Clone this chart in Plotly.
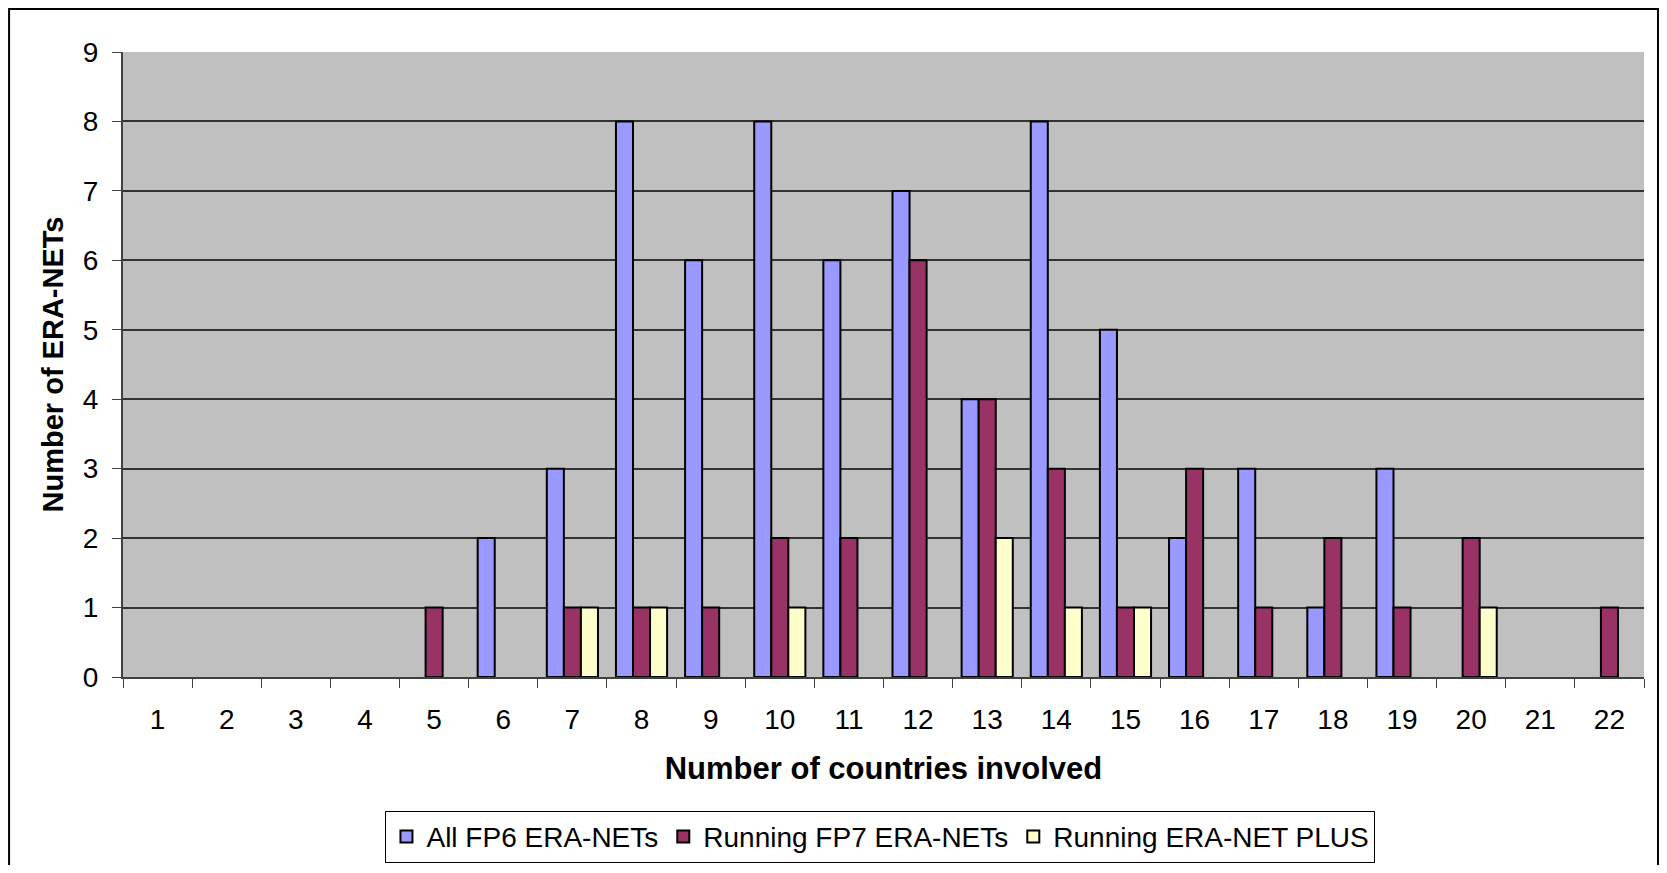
import plotly.graph_objects as go

categories = [str(i) for i in range(1, 23)]
fp6 = [0, 0, 0, 0, 0, 2, 3, 8, 6, 8, 6, 7, 4, 8, 5, 2, 3, 1, 3, 0, 0, 0]
fp7 = [0, 0, 0, 0, 1, 0, 1, 1, 1, 2, 2, 6, 4, 3, 1, 3, 1, 2, 1, 2, 0, 1]
plus = [0, 0, 0, 0, 0, 0, 1, 1, 0, 1, 0, 0, 2, 1, 1, 0, 0, 0, 0, 1, 0, 0]
series_names = ["All FP6 ERA-NETs", "Running FP7 ERA-NETs", "Running ERA-NET PLUS"]
colors = ["#9999FF", "#993366", "#FFFFCC"]

def nz(v):
    return [x if x != 0 else None for x in v]

fig = go.Figure()
for name, vals, col in zip(series_names, [fp6, fp7, plus], colors):
    fig.add_trace(go.Bar(x=categories, y=nz(vals), name=name,
                         marker=dict(color=col, line=dict(color="black", width=2))))

font = "Liberation Sans, Arial, sans-serif"
fig.update_layout(
    width=1651, height=857,
    margin=dict(l=115, r=15, t=44, b=188, autoexpand=False),
    plot_bgcolor="#C0C0C0", paper_bgcolor="white",
    barmode="group", bargap=0.26, bargroupgap=0,
    font=dict(family=font, size=28, color="black"),
    showlegend=True,
    legend=dict(orientation="h", x=0.498, y=-0.2555, xanchor="center", yanchor="middle",
                bordercolor="black", borderwidth=1, font=dict(size=28),
                itemsizing="constant", tracegroupgap=0, itemwidth=30),
    xaxis=dict(type="category", tickson="boundaries", ticks="outside", ticklen=9,
               tickcolor="#404040", showline=True, linecolor="#404040", linewidth=2,
               showgrid=False, tickfont=dict(size=28), ticklabelstandoff=16,
               automargin=False,
               title=dict(text="<b>Number of countries involved</b>", font=dict(size=31), standoff=24)),
    yaxis=dict(range=[0, 9], dtick=1, ticks="outside", ticklen=9, tickcolor="#404040",
               showline=True, linecolor="#404040", linewidth=2,
               showgrid=True, gridcolor="#333333", gridwidth=1.5, zeroline=False,
               tickfont=dict(size=28), ticklabelstandoff=8, automargin=False,
               title=dict(text="<b>Number of ERA-NETs</b>", font=dict(size=29), standoff=11)),
    shapes=[dict(type="rect", xref="paper", yref="paper", x0=-0.0749, x1=1.0092,
                 y0=-0.37, y1=1.0688, line=dict(color="black", width=2), layer="below")],
)
fig.write_html("out.html")
